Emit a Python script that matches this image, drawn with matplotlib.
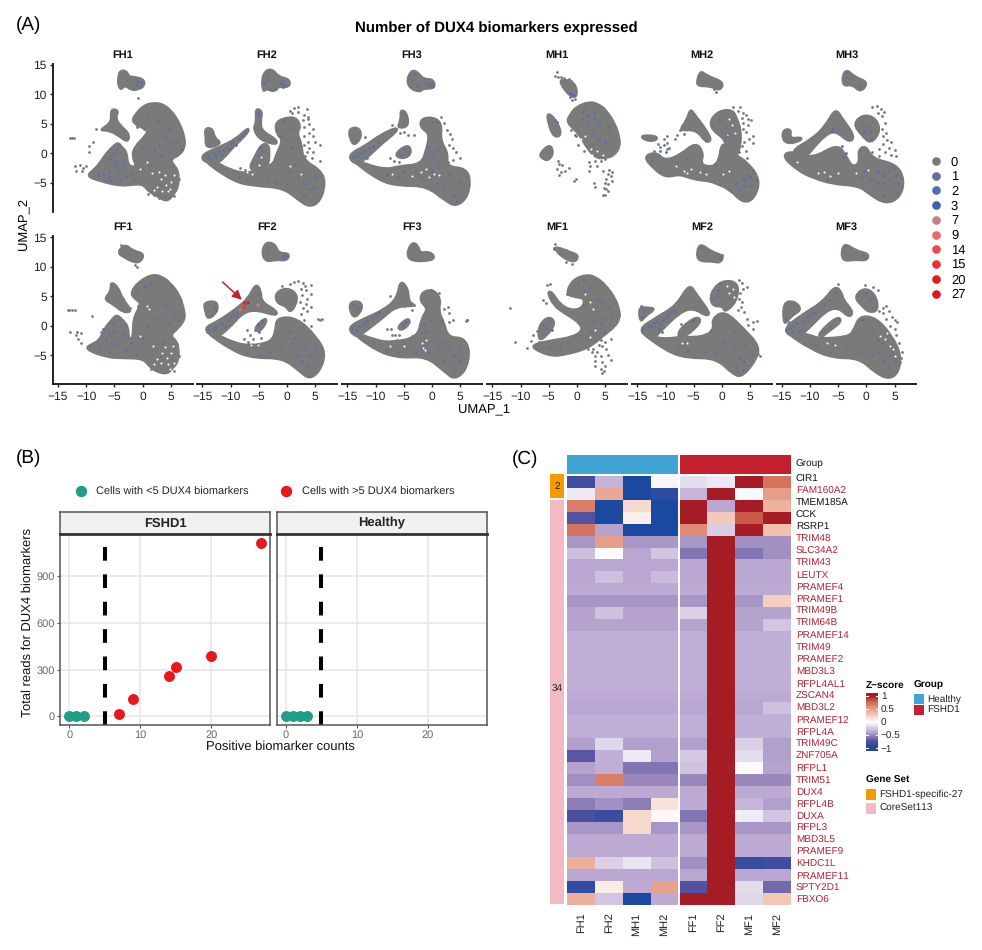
import matplotlib
matplotlib.use("Agg")
import matplotlib.pyplot as plt
import numpy as np
from matplotlib.colors import LinearSegmentedColormap
from matplotlib.lines import Line2D
from matplotlib.patches import Rectangle, PathPatch
from matplotlib.path import Path

plt.rcParams['font.family'] = ['Liberation Sans', 'DejaVu Sans']
plt.rcParams['text.hinting'] = 'no_hinting'
plt.rcParams['text.hinting_factor'] = 1

W, H = 982, 950

# ---------- Panel A: regions of dense cells, sparse cells, and coloured cells (UMAP_1, UMAP_2)
FH1_dense = [
 [(-4.3,12.8),(-4.1,14),(-2.9,14.1),(-2.4,13),(-1.5,13),(0.2,12.6),(0.4,11.6),(-0.5,10.9),(-2,10.7),(-3.1,11.6),(-3.9,10.7),(-4.4,11.9)],
 [(1.9,8.6),(3.6,8.4),(5.2,7.2),(6.6,5.1),(7.4,3),(7.6,1.2),(6.6,-0.3),(4.9,-1),(5.6,-2),(6.4,-3),(6.4,-5.6),(5.5,-7),(4.3,-8.2),(2.5,-7.2),(1,-6.4),(0.1,-5.2),(-2,-5.3),(-4,-5.5),(-7.6,-4.7),(-10,-3.8),(-8.5,-2.6),(-7.6,-1.6),(-6.5,0),(-5.2,1.3),(-4.3,1.9),(-3.6,1),(-2.8,0.3),(-2.6,-2.1),(-1,-2.3),(-1.9,-0.5),(-1.4,1.2),(0.4,2.9),(1,4),(-0.5,4.5),(-2,5.5),(-1,7),(0.3,8.2)],
 [(-5.7,7.6),(-4.2,7.3),(-4.8,6),(-3.9,4.7),(-2.3,3.3),(-2.6,1.9),(-4,2.8),(-5.8,3.9),(-7.8,3.9),(-5.5,5.2)],
]
FH1_gaps = [(3.2,-4.4),(4.1,-5.4),(2.6,-5.6),(5.0,-4.8),(3.4,-6.3),(4.6,-6.4),(2.1,-6.2),(3.9,-3.6),(5.5,-3.6),(1.7,-3.3),(-0.4,-2.6),(0.7,-1.5),(2.9,-3.2),(4.9,-6.1)]
FH1_sparse = [(-12.6,2.7),(-12.2,2.7),(-12.9,2.6),(-8.8,2),(-9.5,1.2),(-9.5,0.3),(-12,-2.2),(-11.1,-1.9),(-11.8,-2.9),(-10.5,-2.5),(-10,-2.1),(-10.8,-3),(-0.8,9.4),(-8.3,4.1),(-1.3,-1.8),(1.0,-6.9),(2.0,-7.1),(3.0,-7.6),(5.5,-7.2),(6.5,-4.4)]
FH1_blue = [(-6,-1),(-5.5,-0.5),(-5,0),(-4.5,0.7),(-5,-2),(-6,-3),(-7,-3.5),(-6,-4),(-4,-4.5),(-3,-4),(-3.5,-1.5),(-4.5,-3.3),(-2,-3.7),(-1.5,-4.5),(-8,-3.4),(-5.8,-4.7),(-4.8,-1.3),(-1,4.5),(0,1),(2,0.8),(3,1.5),(4,2.8),(5,1.7),(6,2),(7,0.8),(3.3,-0.3),(0.8,6.7),(-0.3,12.1),(-1,12.1),(-1.5,11),(-2.7,12.5),(-0.2,11.5),(-1,11.6),(5,-1),(1.5,-2),(0.3,4.1),(2.8,5.6),(4.7,4.1)]

FH2_dense = [
 [(-4.5,12.5),(-3.8,14.1),(-2.5,14.3),(-1.5,13),(0.5,12.6),(0.5,11.2),(-1.9,11.3),(-2.2,10.4),(-3.7,11),(-4.2,10.4)],
 [(-15,-1.1),(-9.6,-4.7),(-6,-5.5),(-0.7,-5.8),(2.2,-8),(4,-9.1),(5.9,-8.2),(6.9,-5),(6,-2.8),(2.9,-1.1),(2.6,1.8),(1.8,3.4),(2.5,4.6),(1.6,6.2),(-0.7,6),(-2.1,5.1),(-1.8,3.2),(-0.7,2.3),(-1.9,-0.2),(-2.5,-2),(-5.4,-2.6),(-7,-3.4),(-10,-2.8),(-13,-1.2)],
 [(-15,-0.1),(-12,1.1),(-9,2.5),(-6.8,4.5),(-6.8,3.5),(-9.6,1),(-10.8,-0.4),(-12.5,-1.9),(-15,-1.3)],
 [(-5.6,7.7),(-4.3,7.2),(-4.7,5.3),(-4.4,3.8),(-1.8,2.4),(-1.8,1.4),(-4.8,2.3),(-6,4.2),(-5.4,5.3)],
 [(-14.6,4.3),(-13.2,4.3),(-12.8,2.6),(-11.6,1.8),(-13.2,1),(-14.4,1.2),(-14.4,2.5)],
 [(-6.8,-2.6),(-5.7,-0.5),(-4.6,1.5),(-3.4,1.7),(-3,0.3),(-3.4,-2.6),(-5,-3)],
]
FH2_gaps = [(-5,-2),(-4.6,-0.6),(0.5,-2.2),(2.5,-3.5),(-7,-3.2),(-6.2,-3.4)]
FH2_sparse = [(1.2,7.7),(2,7.9),(3.6,7.6),(1,6.9),(2,7),(3,6.5),(3.8,6.2),(2.8,5.7),(4,5),(3,4.5),(4.6,4.2),(4,3.4),(3,3),(4.7,3),(5,2),(3.7,2),(3,1.5),(4,1),(5.8,1.5),(3.5,0.3),(4.7,0.2),(5.8,-1.2),(4.4,-0.8),(3.3,-0.5),(3.8,5.8),(-7.5,-2.8),(-8.3,-2.5),(0.6,7.2)]
FH2_blue = [(-14,-0.6),(-13,0),(-12.5,-0.4),(-12,0.4),(-11.3,0.6),(-10.5,1),(-10,1.6),(-9.5,2),(-9,1.5),(-8.5,2.4),(-8,3),(-7.5,3.4),(-13.5,-1),(-11.5,-0.3),(-5.2,6.9),(-5,6.4),(-4.8,1),(-4.4,0.5),(-5,-0.4),(-3.6,12.5),(-3.9,12),(-1.3,12),(-0.6,12.3),(-0.9,11.7),(-0.3,11.6),(-0.6,11.2),(-3.5,13.2),(-2,11),(-0.5,5.5),(1,1),(0.5,-3),(2,-4),(3,-5),(4,-6),(5,-3.8),(4.8,-5.8),(0,-5),(-2,-5),(-3.5,-4.7),(-7,-4.5),(-8.5,-4),(1.2,-1.8),(3,-7),(-1,3),(0.5,4.3)]

FH3_dense = [
 [(-4.5,12.5),(-3.5,14.3),(-2.2,13.5),(-1.5,12.6),(0.3,12.6),(0.6,11),(-1.6,11),(-2.1,10.4),(-3.9,11)],
 [(-14.8,4.2),(-13,4.5),(-12.4,2.9),(-13.7,1.3),(-14.5,2.3)],
 [(-15.1,-0.5),(-9.3,-4.7),(-5.7,-5.5),(-1,-5.5),(2.5,-8.1),(4.3,-9),(6.3,-7.5),(6.9,-4.5),(6,-2.5),(2.6,-2.2),(2.9,0),(1.5,2.3),(1.8,5.1),(0.2,6.2),(-2,5.9),(-2,4.3),(-0.4,3.4),(-1,0.6),(-1.9,-1.8),(-5.7,-2.1),(-8.1,-2.7),(-11.7,-1.8)],
 [(-15.1,-0.3),(-11.7,1.4),(-9.3,3.1),(-6.2,4.5),(-6.2,3.7),(-8.7,1.8),(-11.1,-0.4),(-13.4,-2.1)],
 [(-6.8,-0.2),(-4.2,1.7),(-3.5,0),(-5.1,-1)],
 [(-5.6,7.5),(-4.4,6.9),(-4.1,4.5),(-6.2,4.3),(-5.5,5.7)],
]
FH3_gaps = [(-1,-2.7),(-2,-3.1),(0.3,-3.4),(-3.5,-3.8),(1.2,-3.6),(-0.5,-4.0),(-7,-3.4)]
FH3_sparse = [(-7,4.8),(-5,3.6),(-5.7,3.4),(-4.2,3.2),(-3.2,3.2),(2.7,4),(3.2,3.3),(3.6,2.5),(3,1.5),(3.8,0.9),(4.2,0.2),(5,-0.7),(2.8,-1.4),(3.8,-1.1),(-6.7,-1.3),(-7.4,-0.7),(-5.8,-1.4),(1.6,6.2),(2.2,5.2),(-11.8,2.8)]
FH3_blue = [(-14,-0.6),(-13.3,-0.4),(-12.7,0),(-12,0.4),(-11.2,0.9),(-10.4,1.3),(-9.6,2),(-13,-1.2),(-11.5,-0.7),(-5,0.8),(-4.5,0.3),(-5.5,-0.2),(-3.2,13.6),(-3.5,12.5),(-0.4,11.8),(0,12),(-0.3,11.4),(-1,12),(0.2,11.5),(-2.7,11.5),(0,5.4),(0.9,5.3),(-0.7,1.1),(1,0.6),(0.3,-0.6),(-2,-4),(-3,-3),(-5,-3),(-6,-4),(-8,-3.5),(1,-5),(2,-6),(4,-7),(5,-5),(6,-4),(4.4,-8),(3,-3.5),(0,-3),(-1,-0.6),(1,-2)]

MH1_dense = [
 [(-2.7,12.7),(-0.2,12),(0.1,9.5),(-1.3,9.7),(-3,11.9)],
 [(2.2,8.8),(3.8,8.4),(5.2,7.4),(6.8,5),(7.5,3),(7.7,1.2),(6.6,-0.4),(5,-0.8),(3.4,-0.8),(1.7,1),(0.5,3.2),(-1.9,5.3),(-1.2,6.6),(-0.2,7.9)],
 [(-5.3,7),(-3.7,5.8),(-2.6,3.1),(-4.1,2.7),(-5.1,5.1)],
 [(-6.8,-0.2),(-4.8,1.7),(-4.1,0.1),(-5,-1.2),(-5.9,-1)],
]
MH1_gaps = [(1.5,3.0),(0.7,2.4),(2.5,0.8),(1.8,0),(3.5,0.5),(2.7,-0.3),(4.6,-0.3)]
MH1_sparse = [(-3.6,13.8),(-3.9,13.2),(-3.3,13),(-2.8,13),(-1.4,12.6),(-1,12.3),(-2.2,12.8),(-0.3,9.3),(-0.8,9.1),(-3.3,-1.3),(-2.7,-2),(-3.5,-2.7),(-2.8,-3.1),(-3.2,-3.6),(-1.4,-2.4),(-2.1,-2.9),(-3.2,-1.8),(-0.2,-4.3),(-0.5,-4.7),(2.1,-1.5),(2.4,-2.1),(2.2,-3),(3.3,-1.3),(3.6,-2.1),(4.3,-1.2),(5,-1),(5.5,-3.5),(6,-3.8),(5.2,-4.3),(6.2,-4.6),(5.6,-5.2),(4.9,-5.8),(3.2,-5.7),(3,-5),(5.6,-6.4),(5,-7),(4.6,-7),(5.2,-6),(6.2,-3.2),(5.7,-2.8),(4.6,-3),(1.2,0.5),(0.2,1.4),(-0.2,3),(-1,4)]
MH1_blue = [(-1.3,10.3),(-1,10),(-0.8,10.1),(-0.5,9.9),(-1.2,9.6),(1,7),(1.5,7.5),(2,6.5),(3,7),(3.2,6),(3.5,5.5),(4,4.8),(5.5,4.7),(5.8,4),(3,3.5),(4,2.5),(5,2),(2,4.8),(-3.8,5.7),(-3.5,5.3),(-0.3,3.2),(5,-5),(1,6)]

MH2_dense = [
 [(-4.5,12.2),(-3.8,14.1),(-2.7,13.2),(0.4,12.1),(-0.3,10.6),(-1.9,11.4),(-4.2,11.4)],
 [(-14,-0.5),(-11.6,0.3),(-10.2,-1.2),(-7.5,-0.3),(-4.6,2),(-3.2,0.05),(-3.8,-1.9),(-1.6,-2.3),(-0.5,-1.1),(-0.2,1.2),(0.5,1.7),(2.5,-0.3),(4.5,-1.4),(6.9,-4.5),(5.7,-7.8),(3.7,-8.4),(1.4,-6.1),(-1.3,-5),(-2.2,-4.7),(-5.1,-4.4),(-7.5,-3.5),(-9.9,-4.1),(-12,-2.7)],
 [(-2.1,5.7),(-0.4,7.3),(2,7.4),(2.7,5.8),(3.4,4),(3.3,1.2),(2.7,-0.5),(0.5,0.4),(0.7,2.3),(-1.8,4)],
 [(-5.6,7.7),(-4.6,6.3),(-3.4,4.9),(-1.7,2.3),(-2.8,1.8),(-4.6,4.1),(-7.7,3.8),(-6.2,5.7)],
 [(-14.5,3.1),(-11.4,3),(-11.7,2.1),(-13.7,2.2)],
]
MH2_gaps = [(-6.7,-2.9),(-5.4,-2.6),(-6.2,-3.3),(-3.9,-3.2),(-2.8,-3.5),(0.2,-3.4),(1.2,-3.0),(1.8,4.8),(1.2,5.8),(2.3,3.4),(1.0,3.2),(-8.2,-2.2)]
MH2_sparse = [(3.3,7.8),(2,7.9),(2.8,7.2),(3.7,6.8),(3.5,6),(4.3,6.5),(4.6,5.8),(3.8,5.2),(4.6,4.8),(3.7,4.2),(5.2,5.6),(4.2,3.6),(5.6,3),(5.6,1.8),(4.8,2.5),(4,2),(3.6,1.2),(4.2,0.5),(3,0.3),(4.5,-0.8),(-11.3,1.6),(-12,0.5),(-10.3,2.5),(-9.7,1.8),(-9.8,3),(-9.8,0.8),(-8.3,2.5),(-8,3.2),(-11,1.1)]
MH2_blue = [(-7.5,3.9),(-6.8,3.3),(-11,0.5),(-10,0.2),(-9.3,1),(-10.2,1.4),(-1.4,10.9),(-1.1,10.4),(-2.8,2.1),(-1.5,4.7),(-0.5,5.7),(0.8,4.5),(0.7,3),(-8,-1.5),(-6,-1),(-12.5,-1.2),(5.5,-2.8),(4.3,-2.5),(5,-4),(6,-4.5),(3.9,-4.3),(2.5,-5),(3,-6),(4,-5.5),(5.2,-5.5),(3.6,-7),(4.4,-3.6),(-3.3,-3),(-1.2,-1.7)]

MH3_dense = [
 [(-4.3,13.1),(-3.5,14.3),(-2.1,13),(0.4,12.1),(-1,10.3),(-2.5,11.7),(-4.1,11.4)],
 [(-15,-0.5),(-13.4,0.5),(-9.6,-0.9),(-5.1,1.7),(-3.5,-0.5),(-2.5,-2.3),(-1.2,-1.6),(-1.5,0.6),(-0.1,1.4),(1.1,-0.9),(5.4,-1.8),(6.8,-4.5),(6,-7.5),(3.4,-8.6),(0.5,-6.9),(-1.3,-5.5),(-6,-5.2),(-9.6,-4.1),(-12,-3)],
 [(-13.6,0.4),(-9.6,2.5),(-7.2,4.8),(-5.5,7.7),(-4.3,6),(-2,2.9),(-3,1.8),(-5.4,3.8),(-7.2,3.2),(-9.6,0.7),(-11.3,-1.3)],
 [(-2.4,5.1),(-0.4,6.7),(1.8,5.9),(2.5,3.7),(0.8,1.6),(-0.8,3)],
 [(-14.7,4.1),(-13.3,4.1),(-13.6,2.5),(-11.4,2.8),(-11.7,2.1),(-14,1.6),(-15,2.6)],
]
MH3_gaps = [(-8.5,-3.3),(-7.5,-3.1),(-6.5,-3.8),(-5,-3.3),(-1.8,-3.3),(0.3,-2.8),(-12.4,-1.5)]
MH3_sparse = [(1,7.8),(1.9,8),(2.6,7.6),(3.1,7.1),(2.8,6.4),(2.1,6.9),(3.3,5.2),(2.8,4.1),(3.5,3.5),(3,3),(3.6,2.3),(4.3,2),(3,1.6),(4,1),(5,0.6),(4.4,-0.2),(5.2,-0.4),(3.3,0.3),(2.2,0.8),(-0.2,0.6),(-0.8,-0.2),(1,0.3),(2.3,-0.4)]
MH3_blue = [(-6,4.3),(-6.1,3.8),(-3.7,13.6),(-3.4,13),(-1.2,11.2),(-0.8,5.3),(0,4.5),(0.6,3.6),(-0.5,3.8),(0.9,2.5),(-3.6,0),(-3.9,-0.6),(-4.3,1.3),(-9,-3),(-7,-4.5),(-1,-4),(-0.5,-3),(2,-3),(3,-3.6),(4,-2.8),(5,-2.5),(5.3,-3.7),(4.2,-4.5),(3,-5),(2,-5),(5.6,-5),(5.5,-6.6),(3,-7),(0.8,-4.5)]

FF1_dense = [
 [(-4.5,12.3),(-3.2,13.9),(-1.7,12.7),(0.4,12.2),(-0.5,10.6),(-2,10.9),(-3.1,11.5)],
 [(1.6,8.7),(3.4,8.4),(5,7.2),(6.6,5.2),(7.3,3),(7.6,1.2),(6.4,-0.4),(4.9,-1.6),(6,-2.6),(6.4,-3.6),(6.4,-6),(5.2,-7.4),(4.3,-8.2),(2.5,-7.8),(1.3,-7),(0.1,-5.6),(-3,-5.5),(-6.4,-5.4),(-10.4,-3.9),(-8.8,-3),(-7.6,-2.4),(-6.8,-0.5),(-5.5,1),(-4.6,1.9),(-3.5,1),(-2.5,-0.2),(-2.5,-2.2),(-1.7,-2.2),(-1.7,1.2),(-0.2,3.8),(-1.2,4.4),(-2.2,5.5),(-0.8,7.4)],
 [(-5.7,7.4),(-4.5,6.8),(-3.5,4.5),(-1.8,2.4),(-3.4,2.2),(-5.2,3.6),(-6.9,4.5),(-5.6,5.8)],
]
FF1_gaps = [(3.4,-4.6),(4.3,-5.4),(2.5,-5.7),(5,-4.6),(3.3,-6.3),(4.6,-6.5),(2.1,-6.5),(4,-3.6),(5.4,-3.5),(1.8,-3.5),(0.8,3.4),(1.2,2.8),(-0.5,-1.7),(4.9,-7.3),(5.6,-6.3)]
FF1_sparse = [(-13,2.7),(-12.5,2.7),(-12,2.7),(-13.3,2.6),(-8.9,1.7),(-12.8,-1.1),(-11.8,-1.5),(-11,-1.3),(-11.5,-2.2),(-10.9,-2.9),(-2.3,3),(-1,9.9),(-1.3,10.3),(-3.9,13.7),(-4.1,12.9),(1.5,-7.4),(2.8,-7.7),(5.6,-7.7),(6.5,-5.2),(-7.3,-1)]
FF1_blue = [(-11.6,-1.1),(-7,-0.5),(-6,-1.3),(-5.5,0.5),(-5,-1),(-6.5,-2.5),(-5.5,-3),(-7.5,-4),(-6,-4.5),(-4.5,-3.5),(-3,-4.2),(-2,-3),(-1,-4.8),(-1.1,5.5),(0.5,6.7),(1.4,7),(5,6.8),(3,5),(4,3.5),(5.5,2),(4.5,0.5),(2.5,1.2),(1,0),(0,-2),(1.7,-1.6),(3.2,-5.1),(3.7,-3),(6.5,1),(-0.8,3.3),(-3.5,-1.5)]

FF2_dense = [
 [(-4.5,12.3),(-3.8,14.2),(-2.1,13.9),(-1.5,12.3),(0.5,12.3),(0.1,11),(-1.9,11.2),(-3.7,10.8)],
 [(-15,-0.7),(-9.6,-4.3),(-6,-5.5),(-0.7,-5.5),(2.2,-7.7),(4,-9.1),(5.9,-7.7),(6.9,-4.7),(5.4,-2),(1.8,1.4),(-1.9,1.4),(-2,-1),(-2.9,-2.8),(-6.6,-3.4),(-9.6,-2.8),(-12.5,-1.4)],
 [(-15,-0.5),(-12,0.9),(-9,2.9),(-6.9,4.6),(-5.5,7.2),(-4.6,6),(-4.5,4),(-1.8,2.6),(-1.8,1.6),(-5.4,2.7),(-7.8,2.2),(-10.2,-0.4),(-12.5,-2.1)],
 [(-14.8,4),(-12.3,4.2),(-12.3,2.3),(-14,1),(-14.5,2.4)],
 [(-2.1,5.5),(-0.1,6.5),(1.9,5.4),(1.6,3.4),(0.5,2.2),(-0.1,3.3),(-1.8,3.8)],
 [(-5.9,-0.5),(-3.9,1.4),(-3.5,0.7),(-4.9,-1.2)],
]
FF2_gaps = [(-3.6,-2.2),(-5.2,-3.2),(-6.4,-3.2)]
FF2_sparse = [(-0.8,6.7),(0.6,7),(1.2,7.4),(2,7.5),(2.8,7.3),(3.2,6.8),(4.3,6.9),(2.5,6.3),(3.4,6.1),(4.3,5.3),(2.6,5.2),(3.6,4.6),(2.4,4),(3.4,3.7),(4.2,3.2),(2.8,3),(3.6,2.5),(2.5,2),(5.5,1.2),(6.2,1.2),(5.8,0.9),(3,1),(4.3,0),(3.6,-0.6),(-6.5,-1.5),(-6,-2.3),(-4.6,-2),(-5.6,-0.8),(-7,-0.7),(-7.6,-2.3),(-6.9,-2.8),(-13,3.4)]
FF2_blue = [(-14,-0.5),(-13,-0.6),(-12.5,0),(-11.5,0.5),(-11,0),(-10.5,1),(-10,1.5),(-9.5,1.9),(-9,1.7),(-8.8,2.4),(-13,3.2),(-12.5,2.7),(-5.1,0.3),(-4.5,0.8),(-5,-1),(-3.3,12.8),(-0.4,12),(-0.1,11.6),(-0.6,11.7),(-5,5.4),(1,-3),(2,-5),(3,-4),(4,-5),(5,-4),(3.5,-7),(2.7,-6),(0.5,-1),(-1,-4),(-3,-4.5),(-5,-5),(-7,-4.6),(1.3,-2),(4,-8.5)]
FF2_red = [(-7.5,3.8),(-6.9,3.9),(-8.3,2.7),(-7.5,3.1),(-5.1,3.5)]
FF2_red_values = [20, 27, 9, 15, 7]

FF3_dense = [
 [(-4.5,12.3),(-3.5,14.2),(-2.4,13.6),(-2.1,12.3),(-0.7,12.6),(0.5,11.9),(0.1,11),(-3.8,10.9)],
 [(-15.1,-0.5),(-9.9,-4.3),(-5.7,-5.5),(-1,-5.2),(2.5,-8),(4,-9.1),(6,-7.7),(6.8,-4.4),(5.7,-2),(2.9,-2),(2.1,0.7),(1.2,2.4),(1.6,4.6),(0.2,6.2),(-1.8,5.7),(-2.1,4.1),(-0.7,2.9),(-1.9,1.2),(-2.5,-1.9),(-6.9,-2.8),(-9.9,-2.5)],
 [(-15.1,-0.3),(-11.7,1.4),(-8.7,2.6),(-6.2,4.6),(-5.6,7.8),(-4.2,6.3),(-4.1,4),(-2.6,3.3),(-6.3,3.3),(-8.7,1.3),(-11.7,-0.9),(-13.4,-2.1)],
 [(-14.9,4),(-12.6,4.2),(-12.3,2.7),(-14,1)],
 [(-6.2,-0.2),(-4.2,1.4),(-3.8,0.4),(-5.4,-0.9)],
]
FF3_gaps = [(-1.8,-3),(-1.6,-3.8),(-1,-2.5),(-1.3,-4.2),(-7.5,-3.4),(-5,-3.5)]
FF3_sparse = [(-7.5,5),(-6.2,5.1),(-5,3.4),(-3.2,3.5),(-3.6,2.6),(1.2,5.5),(2.2,2.8),(3.1,2.2),(2.9,3.2),(3.8,0.9),(3,0.6),(6.2,1),(6,0.8),(-6.5,-1.5),(-7.2,-0.6),(-5.8,-1.6),(-6.2,-2.5),(-7,-1.5),(-8,-0.5),(-3.5,-1.7)]
FF3_blue = [(-14.2,-0.6),(-13.4,-0.8),(-13,0),(-12,0.4),(-11.5,0.8),(-10.5,1.4),(-10,1.9),(-9.3,2.3),(-13.8,3.5),(-13.2,3),(-4.7,0.6),(-5.2,0.1),(-0.2,6),(6.2,1),(1.8,0.9),(-0.2,1),(-1.4,0.2),(-1,-1),(-2,-4),(-3,-4.5),(-6,-4.5),(-8,-4),(-1,-3.3),(1,-4),(2,-6),(3,-4),(4,-5),(5,-6),(3.7,-8),(5,-3.5),(2.4,-3),(-0.5,-4.7)]

MF1_dense = [
 [(-4.2,13.6),(-1.2,12.5),(0.4,11.9),(-0.4,10.6),(-3,11.8)],
 [(1.7,8.7),(3.5,8.2),(5.2,6.8),(6.8,4.7),(7.5,2.8),(7.7,1.2),(6.6,-0.3),(5.2,-1.3),(2.8,-3.3),(0.8,-4.2),(-2,-4.9),(-4.6,-5.2),(-7.8,-3.9),(-7.6,-3.1),(-4.6,-2.5),(-0.7,-1.9),(1,-0.8),(0.5,0.4),(-1.3,1.6),(-2.4,2.2),(-4.1,3.4),(-5.3,5.7),(-4.4,5.8),(-3.1,3.7),(-1,2.6),(1,3),(1.4,4.6),(-0.1,4.8),(-2,5.3),(-0.8,7.8)],
 [(-6.8,0.1),(-4.9,1.7),(-3.7,0.4),(-5.4,-1.8),(-6.8,-2.6)],
]
MF1_gaps = [(2.4,4),(2.9,2.8),(1.5,5.4),(3.3,-0.7),(2.3,-1.9)]
MF1_sparse = [(-11.9,3),(-10.9,-2.8),(-8.2,-2.6),(-8.8,-3.7),(-7.8,-1.5),(-7,-0.9),(-6.7,-2.7),(-5.3,6.9),(-4.7,7),(-6,4.4),(-5.4,3.8),(-3.8,13.8),(-4.1,13),(-2,12.9),(-0.6,12.4),(-0.3,11.9),(-2,10.8),(-0.9,10.5),(2.9,-3.9),(3.5,-4.4),(4.4,-3.5),(5.2,-4),(5.5,-4.9),(6,-5.8),(2.6,-4.5),(3.3,-5.2),(4.2,-5.2),(3.3,-6),(4.5,-6.2),(5,-6.8),(3.2,-6.8),(4.2,-7.3),(4.5,-8),(4.9,-7.6),(1.9,-3.9),(5,-2.7),(4.3,-2.5),(6,-2.3),(3.9,-3.2)]
MF1_blue = [(-6,0.1),(-5.4,-0.5),(-5,0.9),(-4.4,-0.7),(-4.1,13.2),(0.2,7),(1.3,7.7),(2.2,6.4),(1.2,6),(-1.8,5.3),(3.5,4.5),(4.5,4),(5.5,3),(5,1.2),(4.3,0.5),(3,0.8),(2.5,-1),(0.5,-1.5),(-1.5,-3),(-3,-3.5),(-5,-3.8),(1.2,3.5),(6.2,2),(5,-1.2)]

MF2_dense = [
 [(-4.5,12.5),(-3.8,14),(-1.8,12.5),(0.4,11.9),(-0.3,10.6),(-1.6,10.9),(-4.2,10.9)],
 [(-15,-0.7),(-9.9,-4.3),(-6.3,-5.5),(-1,-5.5),(2,-8.3),(3.7,-8.7),(6.3,-5.5),(6.6,-3.3),(3.9,-0.5),(0.5,2.6),(-1.8,1.2),(-1.4,-0.7),(-3.4,-1.9),(-7.5,-1.9),(-9.9,-2.2),(-12.2,-1.9)],
 [(-15,-0.7),(-11.7,1.4),(-8.1,3.4),(-5.8,7.2),(-4.4,5.2),(-2,2.1),(-2.8,1.6),(-5.1,3),(-7.5,2.2),(-10.8,-0.9),(-12.2,-2.3)],
 [(-7.7,-0.7),(-4.5,1.7),(-3.5,0.7),(-6.3,-1.8),(-7.7,-2.1)],
 [(-2.1,5.5),(-0.1,7.7),(3,7.4),(2.7,4.1),(0.5,2.2),(0.2,3.3),(-1.8,3.3)],
 [(-14.8,3.1),(-13.3,3.1),(-11.7,2.9),(-13.6,1.6),(-14.5,0.5)],
]
MF2_gaps = [(1.2,5.6),(2.0,6.3),(2.1,4.8),(0.9,6.7),(-6.2,-2.9),(-7,-3)]
MF2_sparse = [(3,7.7),(3.5,7.3),(3.8,6.3),(3.3,5.6),(4.4,6.5),(3,4.6),(3.6,4),(3.4,3.2),(2.8,2.7),(4,2.4),(4.4,1.2),(5.5,0.7),(6.2,0.8),(4.6,0.1),(5.5,-0.6),(6.5,-4.8),(6.7,-5.1),(-14.4,3.4),(-11,0.7),(-12.5,0.2),(-7.3,0.3)]
MF2_blue = [(-14.2,3.2),(-13.9,2.5),(-14.1,1.5),(-14,-0.7),(-13,0.1),(-12.6,0),(-12,0.4),(-11.5,0.7),(-11,0.3),(-10.5,1),(-10,1.3),(-9.5,1.8),(-9,2.3),(-8.5,2.5),(-11.2,-0.6),(-10.7,-1),(-5.2,0.8),(-5,1.2),(-1.4,4.6),(-0.7,5),(-0.7,6),(-0.4,7.2),(1.2,4.5),(-3.7,13.3),(0.1,11.9),(-0.3,11.4),(-1.9,-0.7),(2.4,-1),(0.4,-3),(2,-4),(4,-3.2),(3,-5.5),(2.5,-7),(3.7,-7.5),(4,-6),(5.5,-5),(-3,-4.5),(-6,-4.2),(-8,-3.5),(-1,-4.5)]

MF3_dense = [
 [(-4.5,12.5),(-3.8,14),(-1.8,12.7),(0.5,12.2),(0.1,11),(-1.9,11.2),(-4.1,10.9)],
 [(-15,-0.7),(-9.9,-4),(-5.9,-5.5),(-1.3,-5.5),(1.6,-8),(4,-9.1),(5.7,-8),(6.2,-5),(4.5,-1.6),(1.7,1.4),(-1.3,1.7),(-2.3,-1),(-3.5,-1.9),(-8.4,-2.2),(-10.4,-1.4)],
 [(-15,-0.7),(-11.3,2),(-7.8,4),(-5.5,6.9),(-4.3,5.5),(-4.1,4.4),(-2.3,2.4),(-3,1.3),(-5,3.1),(-7.2,2.5),(-10.4,-0.7),(-12.5,-2.3)],
 [(-8.6,-1.3),(-5.1,1.7),(-4.3,0.7),(-6.6,-0.9),(-8.1,-2.1)],
 [(-2.2,4.9),(-0.4,6.5),(1.6,5.4),(2.2,2.6),(0.5,2.2),(-0.8,3.3)],
 [(-14.8,4),(-12.7,4.2),(-11.4,2.7),(-13.4,1.6),(-14.7,-0.1)],
]
MF3_gaps = [(3.3,-2.2),(4.2,-3.4),(4.8,-4),(2.4,-1.7),(3.7,-1.3),(-5.5,-3.2),(-7,-3),(5,-5.2)]
MF3_sparse = [(-0.3,6.9),(1.2,6.5),(2,6),(2.2,2.5),(2.9,3),(3.5,3.4),(3,2.1),(4,2.5),(4.6,1.5),(3.5,1.2),(5,1),(5.5,0.7),(4.2,0),(5,-0.6),(5.3,-1.5),(5.8,-3),(6.3,-4.5),(6.2,-5.4),(5.9,-6.2),(-5.1,7.1),(-6,6),(-13.7,0.6),(-14,0.3)]
MF3_blue = [(-14.3,-0.7),(-13.8,-0.4),(-13.2,-1),(-13,0),(-12.4,0.5),(-12,-1),(-11.5,0.9),(-11,0.4),(-10.5,1.5),(-10,1.8),(-9.4,2.2),(-14.3,1.1),(-7.5,3.5),(-6.6,4.4),(-5.6,5.7),(-4.8,0.9),(-6.5,-0.2),(-3.8,13.6),(-0.6,12),(-0.2,11.5),(-0.1,5.6),(0.8,4.5),(-0.7,1),(1,-0.8),(2,-2.5),(3,-3),(2,-4.5),(1,-5),(-1,-4.5),(-3.5,-4),(-6.5,-4.5),(-9,-3.3),(3,-6),(4,-7),(5,-6),(3.8,-8.3),(4.5,-4.5)]

top_samples = ["FH1", "FH2", "FH3", "MH1", "MH2", "MH3"]
bottom_samples = ["FF1", "FF2", "FF3", "MF1", "MF2", "MF3"]
biomarker_levels = ["0", "1", "2", "3", "7", "9", "14", "15", "20", "27"]
level_colors = ["#7a7a7a", "#5f7099", "#4f6fae", "#3d62ae", "#c77d88", "#ec6868", "#ec4a4a", "#ea3030", "#e81a1f", "#e8141a"]

# ---------- Panel B
fshd_low_x = [0, 1, 2]
fshd_low_y = [0, 3, 2]
fshd_high_x = [7, 9, 14, 15, 20, 27]
fshd_high_y = [15, 110, 258, 315, 385, 1115]
healthy_low_x = [0, 1, 2, 3]
healthy_low_y = [0, 4, 1, 4]

# ---------- Panel C
genes = ["CIR1","FAM160A2","TMEM185A","CCK","RSRP1","TRIM48","SLC34A2","TRIM43","LEUTX","PRAMEF4","PRAMEF1","TRIM49B","TRIM64B","PRAMEF14","TRIM49","PRAMEF2","MBD3L3","RFPL4AL1","ZSCAN4","MBD3L2","PRAMEF12","RFPL4A","TRIM49C","ZNF705A","RFPL1","TRIM51","DUX4","RFPL4B","DUXA","RFPL3","MBD3L5","PRAMEF9","KHDC1L","PRAMEF11","SPTY2D1","FBXO6"]
black_genes = ["CIR1", "TMEM185A", "CCK", "RSRP1"]
healthy_cols = ["FH1", "FH2", "MH1", "MH2"]
fshd_cols = ["FF1", "FF2", "MF1", "MF2"]
healthy_z = [
 [-.80,-.33,-1,-.04],[-.10,.45,-1,-.90],[.65,-1,.20,-1],[-.72,-1,.08,-1],[.70,-.40,-1,-1],
 [-.45,.50,-.45,-.45],[-.28,.02,-.38,-.25],[-.38,-.38,-.38,-.38],[-.38,-.28,-.38,-.30],[-.37,-.37,-.37,-.37],
 [-.45,-.45,-.45,-.45],[-.40,-.27,-.40,-.40],[-.40,-.40,-.40,-.40],[-.36,-.36,-.36,-.36],[-.36,-.36,-.36,-.36],
 [-.36,-.36,-.36,-.36],[-.36,-.36,-.36,-.36],[-.36,-.36,-.36,-.36],[-.37,-.37,-.37,-.37],[-.38,-.38,-.38,-.38],
 [-.36,-.36,-.36,-.36],[-.36,-.36,-.36,-.36],[-.42,-.18,-.42,-.42],[-.70,-.35,-.10,-.42],[-.40,-.36,-.58,-.58],
 [-.48,.65,-.50,-.50],[-.37,-.37,-.37,-.37],[-.55,-.47,-.55,.15],[-.75,-.85,.20,.03],[-.45,-.45,.20,-.45],
 [-.37,-.37,-.37,-.37],[-.37,-.37,-.37,-.37],[.42,-.20,-.12,-.27],[-.38,-.38,-.38,-.38],[-.88,.10,-.37,.48],[.42,-.25,-1,-.37]]
fshd_z = [
 [-.15,-.10,1,.70],[-.32,1,-.03,.50],[1,-.38,1,.40],[1,.28,.80,1],[.60,-.22,1,.33],
 [-.45,1,-.47,-.47],[-.58,1,-.58,-.48],[-.38,1,-.38,-.38],[-.38,1,-.38,-.38],[-.37,1,-.37,-.37],
 [-.45,1,-.45,.25],[-.20,1,-.40,-.40],[-.40,1,-.40,-.25],[-.36,1,-.36,-.36],[-.36,1,-.36,-.36],
 [-.36,1,-.36,-.36],[-.36,1,-.36,-.36],[-.36,1,-.36,-.36],[-.37,1,-.37,-.37],[-.38,1,-.38,-.27],
 [-.36,1,-.36,-.36],[-.36,1,-.36,-.36],[-.42,1,-.20,-.42],[-.24,1,-.15,-.42],[-.26,1,.02,-.40],
 [-.50,1,-.50,-.50],[-.37,1,-.37,-.37],[-.37,1,-.32,-.42],[-.58,1,-.08,-.25],[-.45,1,-.45,-.45],
 [-.37,1,-.37,-.37],[-.37,1,-.37,-.37],[-.48,1,-.85,-.80],[-.38,1,-.38,-.38],[-.72,1,-.15,-.62],[1,1,-.18,.30]]
cbar_ticks = [-1, -0.5, 0, 0.5, 1]
row_split_counts = [2, 34]

fig = plt.figure(figsize=(W/100, H/100), dpi=100, facecolor="white")

def ax_px(l, t, r, b, **kw):
    return fig.add_axes([l/W, 1-b/H, (r-l)/W, (b-t)/H], **kw)

def text_px(x, y, s, **kw):
    kw.setdefault("va", "center")
    return fig.text(x/W, 1-y/H, s, **kw)

def rect_px(l, t, r, b, color):
    fig.add_artist(Rectangle((l/W, 1-b/H), (r-l)/W, (b-t)/H, transform=fig.transFigure,
                             facecolor=color, edgecolor="none"))

def region_patch(poly):
    """Closed rounded outline through the region's outline vertices (quadratic Bezier path)."""
    p = np.array(poly, dtype=float)
    mids = (p + np.roll(p, -1, axis=0)) / 2
    verts = [mids[-1]]
    codes = [Path.MOVETO]
    for v, m in zip(p, mids):
        verts += [v, m]
        codes += [Path.CURVE3, Path.CURVE3]
    return PathPatch(Path(verts, codes), facecolor="#7a7a7a", edgecolor="#7a7a7a", lw=1.6, zorder=1)

# ======== Panel A
panel_lefts = [53, 197.3, 342.3, 487.3, 632.3, 776.8]
PW = 139.7
XL = (-15.9, 8.9)
YL = (-9.93, 15.2)
for row, (samples, top, bottom) in enumerate([(top_samples, 63.8, 212.1), (bottom_samples, 236, 384.3)]):
    for col, name in enumerate(samples):
        ax = ax_px(panel_lefts[col], top, panel_lefts[col]+PW, bottom)
        ax.set_xlim(XL); ax.set_ylim(YL)
        g = globals()
        for poly in g[name+"_dense"]:
            ax.add_patch(region_patch(poly))
        gx, gy = zip(*g[name+"_gaps"])
        ax.scatter(gx, gy, s=2.2, c="white", linewidths=0, zorder=2)
        sx, sy = zip(*g[name+"_sparse"])
        ax.scatter(sx, sy, s=4.0, c="#7a7a7a", linewidths=0, zorder=3)
        bx, by = zip(*g[name+"_blue"])
        ax.scatter(bx, by, s=4.0, c="#5c70a3", linewidths=0, zorder=4)
        if name == "FF2":
            rx, ry = zip(*FF2_red)
            rc = [level_colors[biomarker_levels.index(str(v))] for v in FF2_red_values]
            ax.scatter(rx, ry, s=5.0, c=rc, linewidths=0, zorder=5)
            ax.annotate("", xy=(-8.0, 4.4), xytext=(-11.4, 7.4),
                        arrowprops=dict(arrowstyle="-|>,head_width=0.28,head_length=0.55", color="#c8202f", lw=1.1, shrinkA=0, shrinkB=0), zorder=6)
        ax.set_title(name, fontsize=8.1, fontweight="bold", pad=4.2, color="#111111")
        ax.patch.set_alpha(0)
        for s in ("top", "right"):
            ax.spines[s].set_visible(False)
        ax.spines["left"].set_visible(col == 0)
        ax.spines["left"].set_linewidth(1.4); ax.spines["left"].set_color("#222222")
        ax.spines["bottom"].set_visible(row == 1)
        ax.spines["bottom"].set_linewidth(1.4); ax.spines["bottom"].set_color("#222222")
        ax.set_xticks([-15, -10, -5, 0, 5]); ax.set_yticks([-5, 0, 5, 10, 15])
        ax.tick_params(axis="x", bottom=row == 1, labelbottom=row == 1, labelsize=8.4, length=2.5, width=1, pad=2.5, colors="#222222")
        ax.tick_params(axis="y", left=col == 0, labelleft=col == 0, labelsize=8.4, length=2.5, width=1, pad=2, colors="#222222")

text_px(496.5, 28, "Number of DUX4 biomarkers expressed", fontsize=10.8, fontweight="bold", ha="center")
text_px(16, 25, "(A)", fontsize=13.5)
text_px(23, 224, "UMAP_2", fontsize=9.4, rotation=90, ha="center")
text_px(484.5, 410, "UMAP_1", fontsize=9.4, ha="center")
lh = [Line2D([], [], ls="", marker="o", ms=6.2, mfc=c, mec="none") for c in level_colors]
fig.legend(lh, biomarker_levels, loc="upper left", bbox_to_anchor=(926/W, 1-156/H), frameon=False,
           fontsize=9.2, labelspacing=0.205, handletextpad=0.35, borderpad=0, borderaxespad=0, handlelength=1.6)

# ======== Panel B
text_px(16, 458, "(B)", fontsize=13.5)
green, red = "#1f9e85", "#e8171c"
for name, l, r, lowx, lowy, hix, hiy in [
    ("FSHD1", 60.3, 270.3, fshd_low_x, fshd_low_y, fshd_high_x, fshd_high_y),
    ("Healthy", 277, 486.7, healthy_low_x, healthy_low_y, [], [])]:
    ax = ax_px(l, 534.3, r, 724.7)
    ax.set_xlim(-1.27, 28.3); ax.set_ylim(-54, 1170)
    ax.grid(True, color="#e6e6e6", lw=1.1, zorder=0); ax.set_axisbelow(True)
    ax.set_xticks([0, 10, 20]); ax.set_yticks([0, 300, 600, 900])
    ax.axvline(5, color="black", lw=2.9, dashes=(3.4, 3.4), dash_capstyle="butt", zorder=2)
    ax.scatter(lowx, lowy, s=62, c=green, linewidths=0, zorder=3, clip_on=False)
    if hix:
        ax.scatter(hix, hiy, s=62, c=red, linewidths=0, zorder=3)
    for s in ax.spines.values():
        s.set_color("#555555"); s.set_linewidth(1.1)
    ax.tick_params(axis="both", labelsize=7.6, labelcolor="#666666", color="#555555", length=2.5, width=0.8, pad=1.5)
    if name == "Healthy":
        ax.tick_params(axis="y", left=False, labelleft=False)
    st = ax_px(l, 512.3, r, 534.3)
    st.set_xticks([]); st.set_yticks([]); st.set_facecolor("#f0f0ee")
    for s in st.spines.values():
        s.set_color("#555555"); s.set_linewidth(1.1)
    st.spines["bottom"].set_color("#333333"); st.spines["bottom"].set_linewidth(2)
    st.text(0.5, 0.5, name, transform=st.transAxes, ha="center", va="center", fontsize=9.3, fontweight="bold", color="#222222")
text_px(280.5, 747, "Positive biomarker counts", fontsize=9.6, ha="center", color="#111111")
text_px(28, 622, "Total reads for DUX4 biomarkers", fontsize=9.6, rotation=90, ha="center", color="#111111")
fig.legend([Line2D([], [], ls="", marker="o", ms=8.2, mfc=green, mec="none"),
            Line2D([], [], ls="", marker="o", ms=8.2, mfc=red, mec="none")],
           ["Cells with <5 DUX4 biomarkers", "Cells with >5 DUX4 biomarkers"],
           loc="center left", bbox_to_anchor=(71/W, 1-492/H), frameon=False, ncol=2, fontsize=8.15,
           borderpad=0, borderaxespad=0, handlelength=1.7, handletextpad=0.51, columnspacing=2.47, labelcolor="#222222")

# ======== Panel C
text_px(512, 459, "(C)", fontsize=13.5)
cmap = LinearSegmentedColormap.from_list("z", [
    (0.0, "#1b49a0"), (0.05, "#1b49a0"), (0.17, "#5150a0"), (0.27, "#9a88bd"), (0.33, "#bcaad3"), (0.5, "#ffffff"),
    (0.65, "#f2c0ae"), (0.75, "#e2957f"), (0.86, "#cd5f4a"), (0.95, "#a51c24"), (1.0, "#a51c24")])
TOP, BOT = 476, 905
for l, r, mat, cols, barc in [(567.3, 678.3, healthy_z, healthy_cols, "#3fa5d3"),
                              (679.6, 790.7, fshd_z, fshd_cols, "#c31f2c")]:
    ax = ax_px(l, TOP, r, BOT)
    ax.pcolormesh(np.array(mat), cmap=cmap, vmin=-1.1, vmax=1.1)
    ax.set_ylim(len(genes), 0)
    ax.set_xticks(np.arange(4)+0.5); ax.set_xticklabels(cols, rotation=90, fontsize=8.0, color="#222222")
    ax.set_yticks([])
    ax.tick_params(axis="x", length=0, pad=5.5)
    for s in ax.spines.values():
        s.set_visible(False)
    rect_px(l, 455.3, r, 474, barc)
labax = ax_px(790.7, TOP, 800, BOT)
labax.axis("off"); labax.set_ylim((905-479.3)/12.04, (476-479.3)/12.04)
for i, gname in enumerate(genes):
    labax.text(0.55, i, gname, fontsize=6.9, va="center", ha="left", transform=labax.get_yaxis_transform(),
               color="#111111" if gname in black_genes else "#b5212f", clip_on=False)
text_px(796, 464, "Group", fontsize=6.9, color="#111111")
rect_px(549.7, 474.3, 564, 498.3, "#f59a00")
rect_px(549.7, 500, 564, 904.3, "#f4bac4")
text_px(556.8, 486.3, str(row_split_counts[0]), fontsize=7.0, ha="center", color="#222222")
text_px(556.8, 689, str(row_split_counts[1]), fontsize=7.0, ha="center", color="#222222")

cax = ax_px(866, 693, 878, 751)
z = np.linspace(-1.1, 1.1, 200).reshape(-1, 1)
cax.imshow(z, aspect="auto", cmap=cmap, vmin=-1.1, vmax=1.1, origin="lower", extent=(0, 1, -1.1, 1.1))
cax.set_xticks([]); cax.yaxis.tick_right(); cax.set_yticks(cbar_ticks)
cax.set_yticklabels(["\u22121", "\u22120.5", "0", "0.5", "1"], fontsize=7.2, color="#222222")
cax.tick_params(axis="y", length=0, pad=2)
for s in cax.spines.values():
    s.set_visible(False)
for t in cbar_ticks:
    cax.plot([0, 0.2], [t, t], color="white", lw=0.8)
    cax.plot([0.8, 1], [t, t], color="white", lw=0.8)
cax.set_xlim(0, 1); cax.set_ylim(-1.1, 1.1)
text_px(866, 685, "Z\u2212score", fontsize=7.2, fontweight="bold")
text_px(914, 685, "Group", fontsize=7.2, fontweight="bold")
rect_px(914, 694, 924, 704, "#3fa5d3")
rect_px(914, 705, 924, 715, "#c31f2c")
text_px(927.5, 699, "Healthy", fontsize=6.9, color="#222222")
text_px(927.5, 710, "FSHD1", fontsize=6.9, color="#222222")
text_px(866, 780, "Gene Set", fontsize=7.2, fontweight="bold")
rect_px(866, 789, 876, 799.5, "#f59a00")
rect_px(866, 803, 876, 813.5, "#f4bac4")
text_px(879, 794, "FSHD1-specific-27", fontsize=6.9, color="#222222")
text_px(879, 808, "CoreSet113", fontsize=6.9, color="#222222")

fig.savefig("out.png", dpi=100, facecolor="white")
